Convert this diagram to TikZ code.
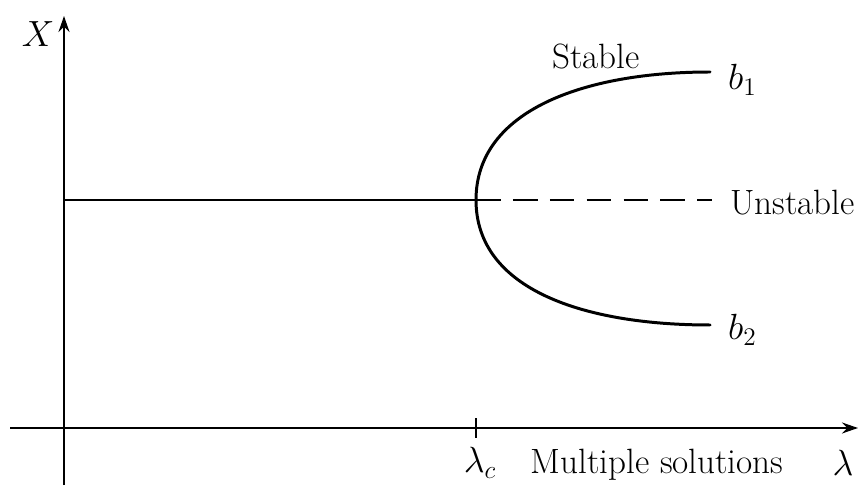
\documentclass[tikz,border=0pt]{standalone}
\usepackage{amsmath,amssymb}
\usetikzlibrary{arrows.meta,positioning}

\begin{document}
\begin{tikzpicture}[x=0.02cm,y=-0.02cm]
\tikzset{
  axisline/.style={draw=black,line width=1.1pt,-{Stealth[length=3.2mm,width=2.2mm]}},
  branch/.style={draw=black,line width=1.7pt,line cap=round},
  basicline/.style={draw=black,line width=1.2pt},
  unstableline/.style={basicline,line width=1.4pt,dash pattern=on 14pt off 7pt},
  lbl/.style={inner sep=1pt,font=\fontsize{20}{24}\selectfont},
  ticknode/.style={inner sep=0pt,minimum size=0pt}
}
\useasboundingbox (0,0) rectangle (862,489);
% axes
\coordinate (ybot) at (64,485);
\coordinate (ytop) at (64,16);
\coordinate (xleft) at (10,428);
\coordinate (xright) at (858,428);
\draw[axisline] (ybot) -- (ytop);
\draw[axisline] (xleft) -- (xright);
\node[lbl] (n_X) at (38,34) {$X$};
\node[lbl] (n_lam) at (843,463) {$\lambda$};
% critical point
\coordinate (tick_hi) at (476,418);
\coordinate (tick_lo) at (476,438);
\draw[basicline] (tick_hi) -- (tick_lo);
\node[lbl] (n_lamc) at (480,463) {$\lambda_c$};
\node[lbl] (n_multi) at (657,465) {Multiple solutions};
% branches
\coordinate (n_start) at (64,200);
\coordinate (n_vertex) at (476,200);
\coordinate (n_dashend) at (712,200);
\coordinate (n_top) at (710,72);
\coordinate (n_bot) at (710,325);
\draw[basicline] (n_start) -- (n_vertex);
\draw[unstableline] (n_vertex) -- (n_dashend);
\draw[branch] (n_vertex) .. controls (476,110) and (585,72) .. (n_top);
\draw[branch] (n_vertex) .. controls (476,290) and (585,325) .. (n_bot);
\node[lbl] (n_stable) at (596,57) {Stable};
\node[lbl,anchor=west] (n_b1) at (726,80) {$b_1$};
\node[lbl,anchor=west] (n_unst) at (728,203) {Unstable};
\node[lbl,anchor=west] (n_b2) at (726,330) {$b_2$};
\end{tikzpicture}
\end{document}
